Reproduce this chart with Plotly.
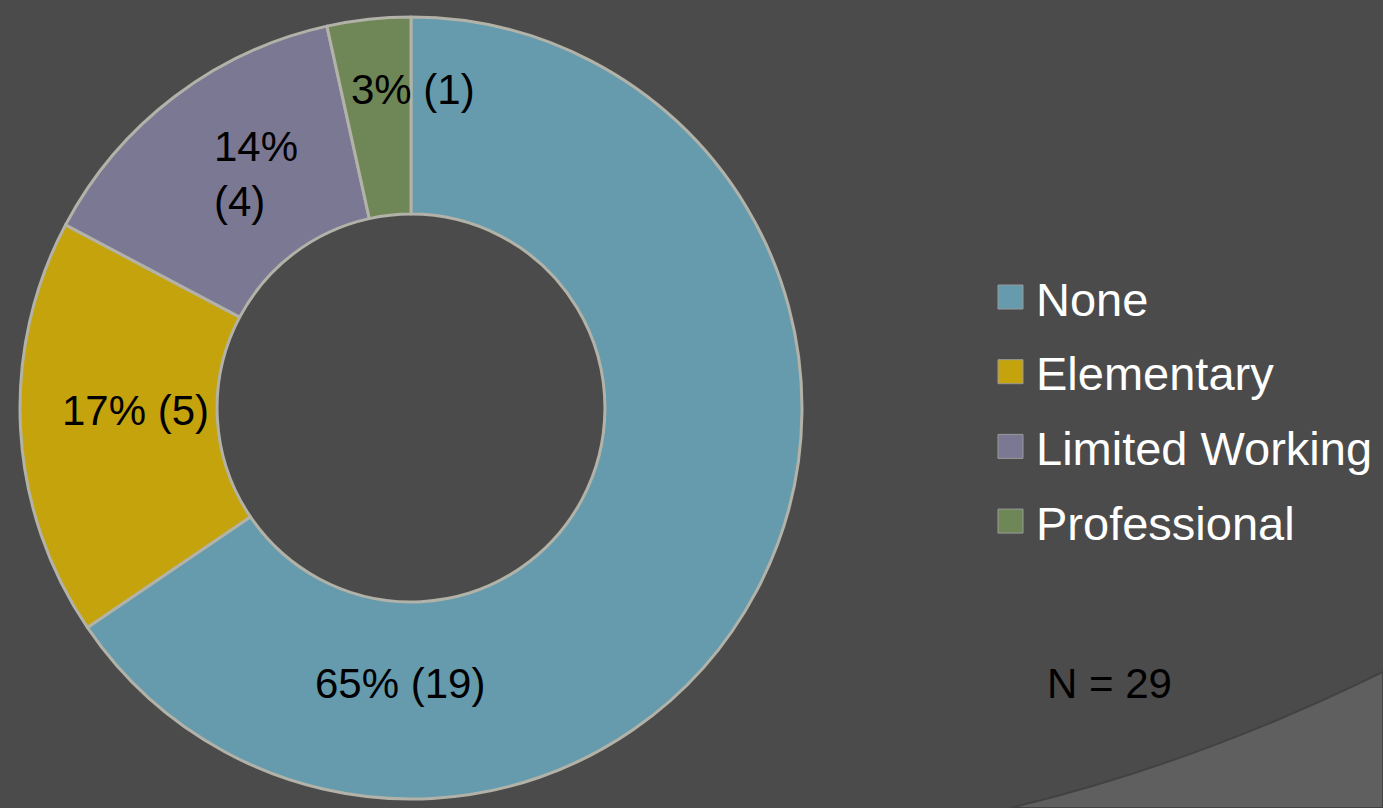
import plotly.graph_objects as go

# ---- data ----
categories = ["None", "Elementary", "Limited Working", "Professional"]
counts = [19, 5, 4, 1]
pct_labels = ["65%", "17%", "14%", "3%"]
n_total = 29

# ---- styling / layout ----
W, H = 1383, 808
colors = ["#659bad", "#c5a30c", "#7b7893", "#6f8757"]
line_color = "#b2b2a8"
bg = "#4b4b4b"
font_family = "Liberation Sans, Arial, sans-serif"

cx, cy, R = 411, 408, 391
label_px = [(400, 683), (135, 410), (256, 174), (413, 90)]
label_join = [" ", " ", "<br>", " "]
label_align = ["center", "center", "left", "center"]

fig = go.Figure(go.Pie(
    labels=categories, values=counts, sort=False, direction="clockwise",
    rotation=0, hole=0.496,
    marker=dict(colors=colors, line=dict(color=line_color, width=3)),
    textinfo="none", showlegend=False,
    domain=dict(x=[(cx - R) / W, (cx + R) / W],
                y=[(H - cy - R) / H, (H - cy + R) / H]),
))

def px(x, y):
    return x / W, 1 - y / H

annotations = []
shapes = []

# lighter background sweep in bottom-right corner
p0 = px(1010, 808); c = px(1195, 764); p2 = px(1383, 672)
shapes.append(dict(
    type="path", xref="paper", yref="paper", layer="below",
    path=f"M {p0[0]},{p0[1]} Q {c[0]},{c[1]} {p2[0]},{p2[1]} L 1,0 Z",
    fillcolor="#5f5f5f", line=dict(color="#424242", width=2),
))

# slice labels
for i in range(len(categories)):
    x, y = px(*label_px[i])
    annotations.append(dict(
        x=x, y=y, xref="paper", yref="paper", showarrow=False,
        text=f"{pct_labels[i]}{label_join[i]}({counts[i]})",
        align=label_align[i], xanchor="center", yanchor="middle",
        font=dict(family=font_family, size=42, color="#000000"),
    ))

# custom legend
leg_y0, leg_dy = 297, 74.7
for i, cat in enumerate(categories):
    yc = leg_y0 + i * leg_dy
    x0, y0 = px(998, yc + 12)
    x1, y1 = px(1023, yc - 12)
    shapes.append(dict(type="rect", xref="paper", yref="paper",
                       x0=x0, x1=x1, y0=y0, y1=y1,
                       fillcolor=colors[i], line=dict(color="#9a9a9a", width=1)))
    tx, ty = px(1034, yc + 2)
    annotations.append(dict(
        x=tx, y=ty, xref="paper", yref="paper", showarrow=False,
        text=cat, xanchor="left", yanchor="middle",
        font=dict(family=font_family, size=47, color="#ffffff"),
    ))

# N annotation
nx, ny = px(1109, 683)
annotations.append(dict(
    x=nx, y=ny, xref="paper", yref="paper", showarrow=False,
    text=f"N = {n_total}", xanchor="center", yanchor="middle",
    font=dict(family=font_family, size=42, color="#000000"),
))

fig.update_layout(
    width=W, height=H, margin=dict(l=0, r=0, t=0, b=0),
    paper_bgcolor=bg, plot_bgcolor=bg,
    annotations=annotations, shapes=shapes,
    font=dict(family=font_family),
)

fig.write_html("out.html", config={"displayModeBar": False},
               post_script="document.body.style.margin='0';")
